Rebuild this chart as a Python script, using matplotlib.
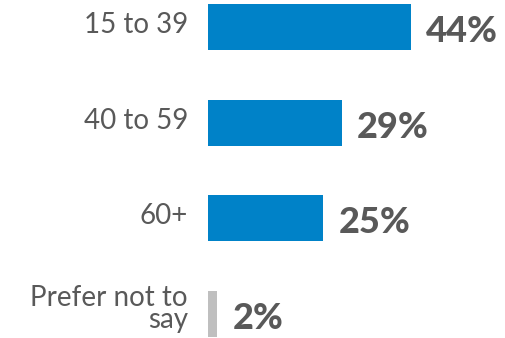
import matplotlib
matplotlib.use("Agg")
import matplotlib.pyplot as plt

# age groups and share of respondents
categories = ["15 to 39", "40 to 59", "60+", "Prefer not to\nsay"]
values = [44, 29, 25, 2]
colors = ["#0082C8", "#0082C8", "#0082C8", "#BFBFBF"]
value_labels = ["44%", "29%", "25%", "2%"]

text_color = "#595959"

fig = plt.figure(figsize=(5.06, 3.38), dpi=100)
ax = fig.add_axes([208 / 506, 0, 298 / 506, 1])

y = list(range(len(categories)))
ax.barh(y, values, height=0.48, color=colors)

ax.set_xlim(0, 298 / (203 / 44))
ax.set_ylim(3.251, -0.282)
ax.axis("off")

for yi, cat, v, lab in zip(y, categories, values, value_labels):
    # category name to the left of the bar
    if "\n" in cat:
        ax.annotate(cat, xy=(0, yi), xytext=(-14.4, 21), textcoords="offset points",
                    ha="right", va="top", fontsize=20, color=text_color,
                    fontfamily="Lato", linespacing=0.82)
    else:
        ax.annotate(cat, xy=(0, yi), xytext=(-14.4, -4.3), textcoords="offset points",
                    ha="right", va="baseline", fontsize=20, color=text_color,
                    fontfamily="Lato")
    # percentage after the bar
    ax.annotate(lab, xy=(v, yi), xytext=(11, -10.8), textcoords="offset points",
                ha="left", va="baseline", fontsize=26, color=text_color,
                fontfamily="Lato", fontweight="black")

fig.savefig("out.png", dpi=100)
